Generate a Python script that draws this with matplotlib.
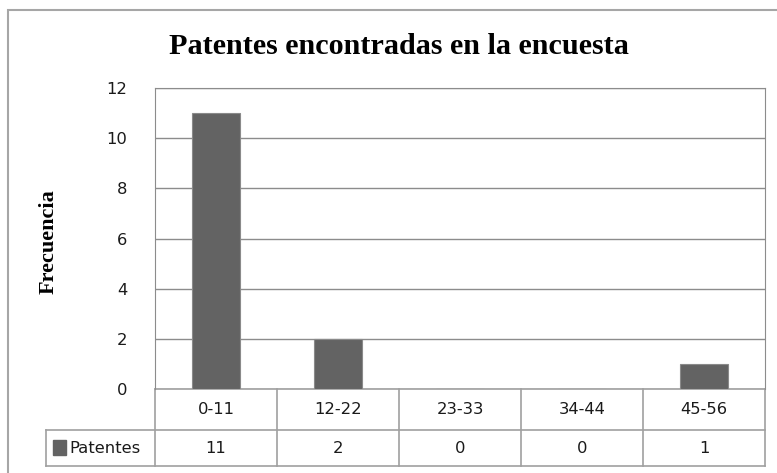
import matplotlib.pyplot as plt
from matplotlib.patches import Rectangle
from matplotlib.transforms import blended_transform_factory
import numpy as np

categories = ['0-11', '12-22', '23-33', '34-44', '45-56']
patentes = [11, 2, 0, 0, 1]
series_name = 'Patentes'
yticks = [0, 2, 4, 6, 8, 10, 12]

TITLE = 'Patentes encontradas en la encuesta'
YLABEL = 'Frecuencia'

BAR_COLOR = '#636363'
GRID_COLOR = '#8c8c8c'
TABLE_COLOR = '#a0a0a0'
TEXT_COLOR = '#1a1a1a'
LABEL_FONT = 'DejaVu Sans'
SERIF = 'Liberation Serif'
FS = 11.8

W, H = 777, 473
fig = plt.figure(figsize=(W / 100, H / 100), dpi=100)

# outer chart border (only top/left visible, rest is cropped)
fig.patches.append(Rectangle(
    (8 / W, -0.1), 1.2, 1.1 - 10 / H,
    transform=fig.transFigure, fill=False,
    edgecolor='#a6a6a6', linewidth=1.5))

left, right = 155, 765
top, bottom = 88, 389
ax = fig.add_axes([left / W, 1 - bottom / H,
                   (right - left) / W, (bottom - top) / H])

x = np.arange(len(categories))
ax.bar(x, patentes, width=0.39, color=BAR_COLOR,
       edgecolor='#8a8a8a', linewidth=0.8, zorder=3)

ax.set_xlim(-0.5, len(categories) - 0.5)
ax.set_ylim(0, 12)
ax.set_yticks(yticks)
ax.set_yticklabels([str(t) for t in yticks], fontsize=FS,
                   family=LABEL_FONT, color=TEXT_COLOR)
ax.tick_params(axis='y', length=0, pad=20)
ax.set_xticks([])
ax.grid(axis='y', color=GRID_COLOR, linewidth=1, zorder=0)
for side in ['top', 'right', 'left']:
    ax.spines[side].set_color(GRID_COLOR)
ax.spines['bottom'].set_visible(False)

ax.set_ylabel(YLABEL, fontsize=16, fontweight='bold', family=SERIF)
ax.yaxis.set_label_coords((59 - left) / (right - left), 0.49)

fig.text(0.513, 1 - 47 / H, TITLE, ha='center', va='center',
         fontsize=21.7, fontweight='bold', family=SERIF)

# data table under the axis
tr = blended_transform_factory(ax.transData, ax.transAxes)
row1 = -41 / (bottom - top)
row2 = -77 / (bottom - top)
legend_left = -0.5 - 109 / 122
n = len(categories)
line_kw = dict(transform=tr, color=TABLE_COLOR, linewidth=1.2,
               clip_on=False)

ax.plot([-0.5, n - 0.5], [0, 0], **line_kw)
ax.plot([legend_left, n - 0.5], [row1, row1], **line_kw)
ax.plot([legend_left, n - 0.5], [row2, row2], **line_kw)
ax.plot([legend_left, legend_left], [row1, row2], **line_kw)
for xv in np.arange(n + 1) - 0.5:
    ax.plot([xv, xv], [0, row2], **line_kw)

for i, (cat, val) in enumerate(zip(categories, patentes)):
    ax.text(i, row1 / 2, cat, transform=tr, ha='center', va='center',
            fontsize=FS, family=LABEL_FONT, color=TEXT_COLOR)
    ax.text(i, (row1 + row2) / 2, str(val), transform=tr, ha='center',
            va='center', fontsize=FS, family=LABEL_FONT, color=TEXT_COLOR)

ax.add_patch(Rectangle((legend_left + 0.06, (row1 + row2) / 2 - 0.022),
                       0.1, 0.048, transform=tr, color=BAR_COLOR,
                       clip_on=False))
ax.text(legend_left + 0.19, (row1 + row2) / 2, series_name, transform=tr,
        ha='left', va='center', fontsize=FS, family=LABEL_FONT,
        color=TEXT_COLOR)

fig.savefig('out.png', dpi=100)
